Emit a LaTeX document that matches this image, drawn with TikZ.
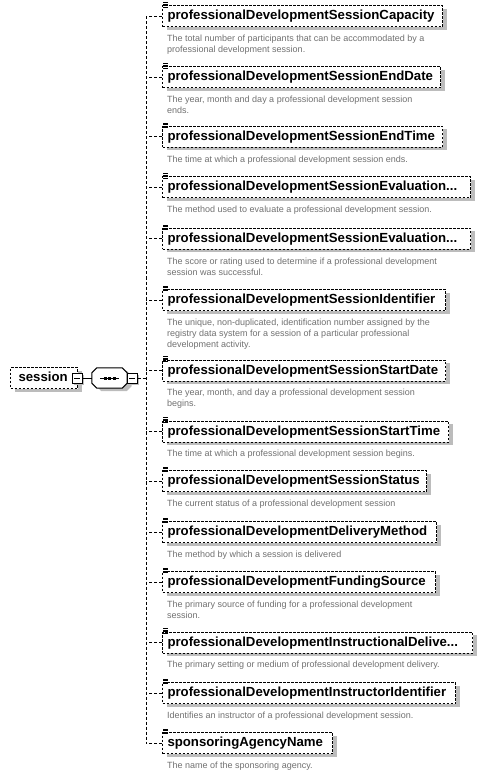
\documentclass[tikz,border=0pt]{standalone}
\usepackage{fontspec}
\setmainfont{Liberation Sans}
\usetikzlibrary{shadows}
\definecolor{descgray}{RGB}{112,112,112}
\definecolor{shgray}{RGB}{188,188,188}
\tikzset{
  conn/.style={draw=black, line width=1pt, dash pattern=on 3pt off 2pt},
  plainline/.style={draw=black, line width=1pt},
  shad/.style={drop shadow={shadow xshift=4.5pt, shadow yshift=-3pt, fill=shgray, opacity=1}},
  elbox/.style={draw=black, fill=white, line width=1pt, dash pattern=on 2.5pt off 1.5pt,
    inner xsep=5pt, inner ysep=0pt, minimum height=21pt, text height=10pt, text depth=3pt,
    font=\fontsize{13.2}{15}\selectfont\bfseries, anchor=west, shad},
  desc/.style={anchor=north west, inner sep=0pt, align=left, text=descgray,
    font=\fontsize{9}{11}\selectfont},
  minusbox/.style={draw=black, fill=white, line width=1pt, minimum size=10pt, inner sep=0pt,
    drop shadow={shadow xshift=2pt, shadow yshift=-2pt, fill=shgray, opacity=1}},
  seqarea/.style={draw=none, minimum width=35pt, minimum height=20pt, inner sep=0pt},
}
\newcommand\docmark[1]{%
  \begin{scope}[shift={(#1.north west)}]
    \fill[white] (1,-3.8) rectangle (6.8,-0.5);
    \foreach \yy in {-3.2,-1.6,0,1.6}{\draw[line width=0.55pt] (1.4,\yy) -- (6.2,\yy);}
  \end{scope}}
\newcommand\elem[5]{%
  \node[elbox] (#1) at (162,#2) {\makebox[\dimexpr#3pt-10pt\relax][l]{#4}};
  \docmark{#1}
  \draw[conn] (#1.west) -- (#1.west -| spinetop);
  \node[desc] (#1d) at (167,#2+17.3) {\strut #5};}
\begin{document}
\begin{tikzpicture}[x=1pt,y=-1pt]
\useasboundingbox (0,0) rectangle (485,775);
% spine
\coordinate (spinetop) at (146,16.5);
\coordinate (spinebot) at (146,743);
\draw[conn] (spinetop) -- (spinebot);
% root
\node[draw=black, fill=white, line width=1pt, dash pattern=on 2.5pt off 1.5pt, anchor=west,
  minimum height=21pt, inner xsep=8pt, inner ysep=0pt, text height=10pt, text depth=3pt,
  font=\fontsize{13.2}{15}\selectfont\bfseries, shad] (session) at (10,378) {\makebox[51pt][l]{session}};
\node[minusbox] (m1) at (77,378) {};
\draw[line width=1pt] ([xshift=2.5pt]m1.west) -- ([xshift=-2.5pt]m1.east);
% sequence compositor (octagon)
\node[seqarea] (seq) at (109.5,378) {};
\path[fill=white, draw=black, line width=1pt, shad]
  ([xshift=5pt]seq.north west) -- ([xshift=-5pt]seq.north east) -- ([yshift=-5pt]seq.north east)
  -- ([yshift=5pt]seq.south east) -- ([xshift=-5pt]seq.south east) -- ([xshift=5pt]seq.south west)
  -- ([yshift=5pt]seq.south west) -- ([yshift=-5pt]seq.north west) -- cycle;
\draw[plainline] (m1.east) -- (seq.west);
\draw[line width=1pt] ([xshift=-9.5pt]seq.center) -- ([xshift=9.5pt]seq.center);
\foreach \dx in {-4.5,0,4.5}{\fill ([xshift=\dx pt]seq.center) +(-1.5,-1.5) rectangle +(1.5,1.5);}
\node[minusbox] (m2) at (132,378) {};
\draw[line width=1pt] ([xshift=2.5pt]m2.west) -- ([xshift=-2.5pt]m2.east);
\draw[conn] (m2.east) -- (m2.east -| spinetop);
% children
\elem{c1}{16.5}{280}{professionalDevelopmentSessionCapacity}{The total number of participants that can be accommodated by a\\professional development session.}
\elem{c2}{77.5}{278}{professionalDevelopmentSessionEndDate}{The year, month and day a professional development session\\ends.}
\elem{c3}{137}{280}{professionalDevelopmentSessionEndTime}{The time at which a professional development session ends.}
\elem{c4}{187.5}{308}{professionalDevelopmentSessionEvaluation...}{The method used to evaluate a professional development session.}
\elem{c5}{239}{308}{professionalDevelopmentSessionEvaluation...}{The score or rating used to determine if a professional development\\session was successful.}
\elem{c6}{300}{283}{professionalDevelopmentSessionIdentifier}{The unique, non-duplicated, identification number assigned by the\\registry data system for a session of a particular professional\\development activity.}
\elem{c7}{370.5}{283}{professionalDevelopmentSessionStartDate}{The year, month, and day a professional development session\\begins.}
\elem{c8}{431.5}{286}{professionalDevelopmentSessionStartTime}{The time at which a professional development session begins.}
\elem{c9}{481}{264}{professionalDevelopmentSessionStatus}{The current status of a professional development session}
\elem{c10}{532}{274}{professionalDevelopmentDeliveryMethod}{The method by which a session is delivered}
\elem{c11}{582}{273}{professionalDevelopmentFundingSource}{The primary source of funding for a professional development\\session.}
\elem{c12}{642.5}{310}{professionalDevelopmentInstructionalDelive...}{The primary setting or medium of professional development delivery.}
\elem{c13}{693}{293}{professionalDevelopmentInstructorIdentifier}{Identifies an instructor of a professional development session.}
\elem{c14}{743}{170}{sponsoringAgencyName}{The name of the sponsoring agency.}
\end{tikzpicture}
\end{document}
